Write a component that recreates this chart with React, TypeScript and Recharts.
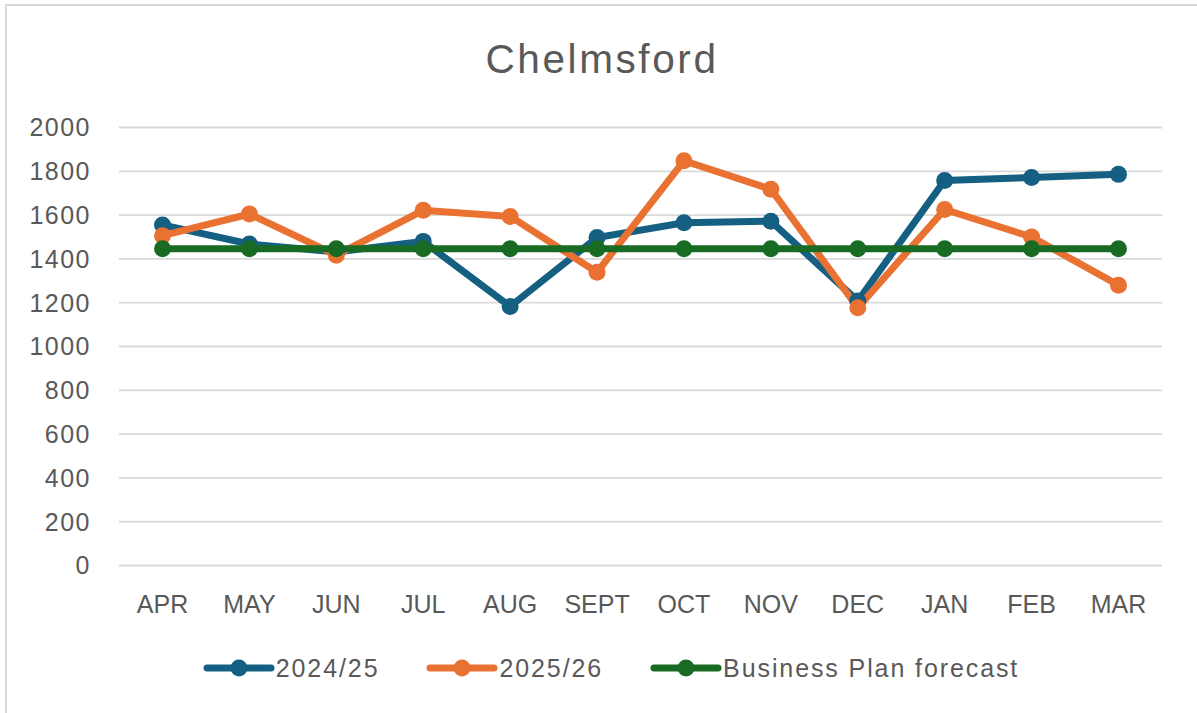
import { LineChart, Line, XAxis, YAxis, CartesianGrid } from "recharts";

const months = ["APR", "MAY", "JUN", "JUL", "AUG", "SEPT", "OCT", "NOV", "DEC", "JAN", "FEB", "MAR"];
const fy2425 = [1555, 1468, 1432, 1480, 1183, 1498, 1565, 1572, 1208, 1758, 1772, 1786];
const fy2526 = [1506, 1605, 1417, 1622, 1594, 1339, 1848, 1718, 1177, 1626, 1500, 1280];
const forecast = [1446, 1446, 1446, 1446, 1446, 1446, 1446, 1446, 1446, 1446, 1446, 1446];
const yTicks = [0, 200, 400, 600, 800, 1000, 1200, 1400, 1600, 1800, 2000];

const SERIES = [
  { key: "fy2425", name: "2024/25", color: "#156082" },
  { key: "fy2526", name: "2025/26", color: "#E97132" },
  { key: "forecast", name: "Business Plan forecast", color: "#196B24" },
];

const W = 1190;
const H = 715;
const FONT = "'Liberation Sans', Arial, sans-serif";
const TEXT = "#595959";

export default function App() {
  const data = months.map((m, i) => ({
    month: m,
    fy2425: fy2425[i],
    fy2526: fy2526[i],
    forecast: forecast[i],
  }));

  return (
    <div
      style={{
        position: "absolute",
        left: 5,
        top: 4,
        width: W,
        height: H,
        border: "2px solid #d9d9d9",
        background: "#fff",
        fontFamily: FONT,
      }}
    >
      <svg style={{ position: "absolute", left: 0, top: 0 }} width={W} height={90}>
        <text x={W / 2} y={67} textAnchor="middle" fontSize={40.5} letterSpacing={2.6} fill={TEXT} fontFamily={FONT}>
          Chelmsford
        </text>
      </svg>
      <LineChart width={W} height={H} data={data} margin={{ top: 121.5, right: 35, bottom: 0, left: 0 }}>
        <CartesianGrid horizontal vertical={false} stroke="#d9d9d9" strokeWidth={1.8} />
        <XAxis
          dataKey="month"
          interval={0}
          height={155.5}
          axisLine={false}
          tickLine={false}
          tickSize={0}
          tickMargin={29.5}
          padding={{ left: 43.5, right: 43.5 }}
          tick={{ fontSize: 25, fill: TEXT, fontFamily: FONT }}
        />
        <YAxis
          domain={[0, 2000]}
          ticks={yTicks}
          interval={0}
          width={112}
          axisLine={false}
          tickLine={false}
          tickSize={0}
          tickMargin={28}
          tick={{ fontSize: 25, fill: TEXT, fontFamily: FONT, letterSpacing: 1.5 }}
        />
        {SERIES.map((s) => (
          <Line
            key={s.key}
            dataKey={s.key}
            name={s.name}
            stroke={s.color}
            strokeWidth={7}
            dot={{ r: 8.5, fill: s.color, stroke: s.color, strokeWidth: 0 }}
            activeDot={false}
            isAnimationActive={false}
          />
        ))}
      </LineChart>
      <div
        style={{
          position: "absolute",
          left: 9,
          top: 648,
          width: W,
          height: 28,
          display: "flex",
          alignItems: "center",
          justifyContent: "center",
          gap: 47,
        }}
      >
        {SERIES.map((s) => (
          <div key={s.key} style={{ display: "flex", alignItems: "center" }}>
            <svg width={72} height={20}>
              <line x1={4} y1={10} x2={68} y2={10} stroke={s.color} strokeWidth={7} strokeLinecap="round" />
              <circle cx={36} cy={10} r={8.5} fill={s.color} />
            </svg>
            <span style={{ marginLeft: 1, fontSize: 25, color: TEXT, letterSpacing: 1.9, lineHeight: "28px" }}>
              {s.name}
            </span>
          </div>
        ))}
      </div>
    </div>
  );
}
